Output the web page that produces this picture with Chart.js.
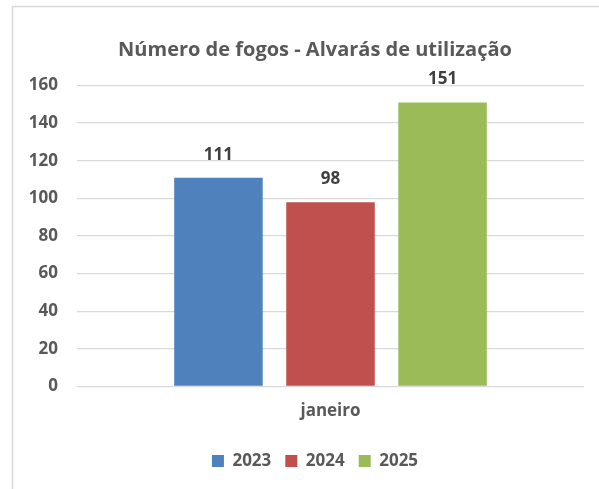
<!DOCTYPE html>
<html>
<head>
<meta charset="utf-8">
<script src="https://cdn.jsdelivr.net/npm/chart.js@4/dist/chart.umd.min.js"></script>
<style>
  html, body { margin: 0; padding: 0; background: #fff; }
  #wrap { width: 599px; height: 489px; }
</style>
</head>
<body>
<div id="wrap"><canvas id="grafico" width="599" height="489"></canvas></div>
<script>
const categorias = ['janeiro'];
const anos = ['2023', '2024', '2025'];
const valores2023 = [111];
const valores2024 = [98];
const valores2025 = [151];
const cores = ['#4F81BD', '#C0504D', '#9BBB59'];

const fonte = '"Open Sans", Lato, sans-serif';

// moldura cinzenta do gráfico
const moldura = {
    id: 'moldura',
    beforeDraw(chart) {
        const c = chart.ctx;
        c.save();
        c.strokeStyle = '#d9d9d9';
        c.lineWidth = 1.5;
        c.strokeRect(12.5, 6.5, 700, 600);
        c.restore();
    }
};

// título e legenda centrados como no Excel
const centrar = {
    id: 'centrar',
    afterLayout(chart) {
        [chart.titleBlock, chart.legend].forEach(b => {
            if (b) { b.left = 46; b.right = 584; }
        });
    }
};

// rótulos por cima das barras
const rotulos = {
    id: 'rotulos',
    afterDatasetsDraw(chart) {
        const c = chart.ctx;
        c.save();
        c.font = 'bold 17px ' + fonte;
        c.fillStyle = '#404040';
        c.textAlign = 'center';
        c.textBaseline = 'middle';
        chart.data.datasets.forEach((ds, i) => {
            chart.getDatasetMeta(i).data.forEach((bar, j) => {
                c.fillText(ds.data[j], bar.x, bar.y - 23);
            });
        });
        c.restore();
    }
};

new Chart(document.getElementById('grafico'), {
    type: 'bar',
    data: {
        labels: categorias,
        datasets: [
            { label: anos[0], data: valores2023, backgroundColor: cores[0] },
            { label: anos[1], data: valores2024, backgroundColor: cores[1] },
            { label: anos[2], data: valores2025, backgroundColor: cores[2] }
        ]
    },
    options: {
        responsive: false,
        animation: false,
        categoryPercentage: 0.663,
        barPercentage: 0.79,
        layout: { padding: { left: 12, right: 15, top: 22, bottom: 9.5 } },
        scales: {
            y: {
                min: 0,
                max: 160,
                ticks: {
                    stepSize: 20,
                    padding: 19,
                    color: '#595959',
                    font: { family: fonte, size: 17, weight: 'bold' }
                },
                grid: { color: '#d9d9d9', lineWidth: 1.3, drawTicks: false },
                border: { display: false },
                afterFit(scale) { scale.width = 65; }
            },
            x: {
                ticks: {
                    padding: 14,
                    color: '#595959',
                    font: { family: fonte, size: 17, weight: 'bold' }
                },
                grid: { display: false, drawTicks: false },
                border: { display: false },
                afterFit(scale) { scale.height = 52; }
            }
        },
        plugins: {
            title: {
                display: true,
                text: 'Número de fogos - Alvarás de utilização',
                color: '#595959',
                font: { family: fonte, size: 20, weight: 'bold' },
                padding: { top: 16, bottom: 23.5 }
            },
            legend: {
                position: 'bottom',
                labels: {
                    boxWidth: 12,
                    boxHeight: 12,
                    padding: 14,
                    color: '#595959',
                    font: { family: fonte, size: 17, weight: 'bold' }
                }
            },
            tooltip: { enabled: false }
        }
    },
    plugins: [moldura, centrar, rotulos]
});
</script>
</body>
</html>
